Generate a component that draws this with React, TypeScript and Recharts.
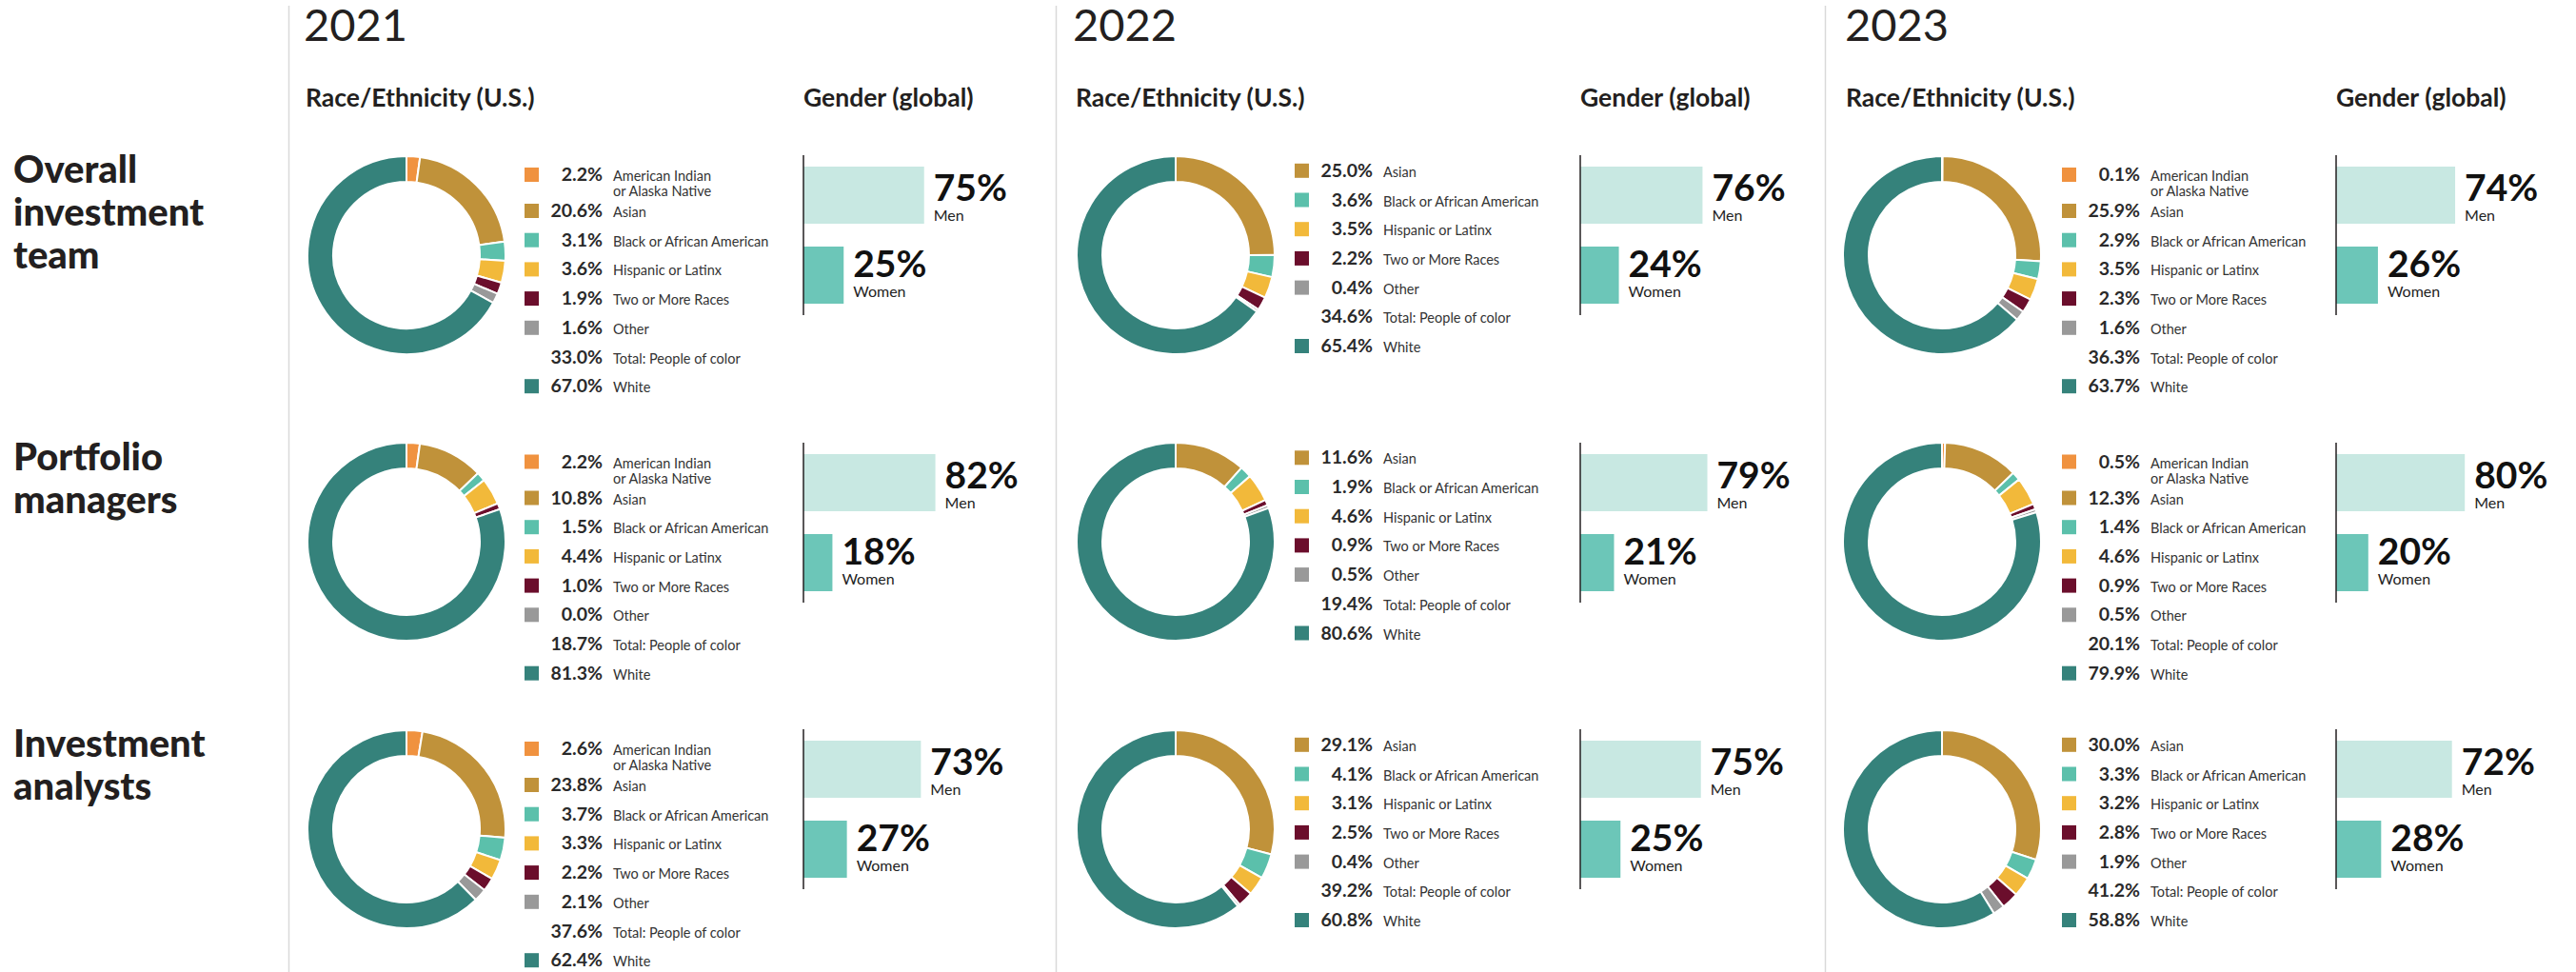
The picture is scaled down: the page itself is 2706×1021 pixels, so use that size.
import React from "react";
import {
  PieChart,
  Pie,
  Cell,
  BarChart,
  Bar,
  XAxis,
  YAxis,
  ReferenceLine,
  LabelList,
} from "recharts";

const YEARS = ["2021", "2022", "2023"];
const ROW_TITLES = [
  ["Overall", "investment", "team"],
  ["Portfolio", "managers"],
  ["Investment", "analysts"],
];

const RACE_LABELS = [
  ["American Indian", "or Alaska Native"],
  ["Asian"],
  ["Black or African American"],
  ["Hispanic or Latinx"],
  ["Two or More Races"],
  ["Other"],
  ["White"],
];
const RACE_COLORS = [
  "#f0923f",
  "#c0923a",
  "#5bc0ab",
  "#f2b93a",
  "#6b0e2c",
  "#999999",
  "#35827b",
];

// one row per year (2021, 2022, 2023); null = not reported that year
const OVERALL = [
  [2.2, 20.6, 3.1, 3.6, 1.9, 1.6, 67.0],
  [null, 25.0, 3.6, 3.5, 2.2, 0.4, 65.4],
  [0.1, 25.9, 2.9, 3.5, 2.3, 1.6, 63.7],
];
const PORTFOLIO = [
  [2.2, 10.8, 1.5, 4.4, 1.0, 0.0, 81.3],
  [null, 11.6, 1.9, 4.6, 0.9, 0.5, 80.6],
  [0.5, 12.3, 1.4, 4.6, 0.9, 0.5, 79.9],
];
const ANALYSTS = [
  [2.6, 23.8, 3.7, 3.3, 2.2, 2.1, 62.4],
  [null, 29.1, 4.1, 3.1, 2.5, 0.4, 60.8],
  [null, 30.0, 3.3, 3.2, 2.8, 1.9, 58.8],
];
const PEOPLE_OF_COLOR = [
  [33.0, 34.6, 36.3],
  [18.7, 19.4, 20.1],
  [37.6, 39.2, 41.2],
];

const GENDER_NAMES = ["Men", "Women"];
const GENDER_COLORS = ["#c8e8e2", "#6cc6b8"];
const MEN = [
  [75, 76, 74],
  [82, 79, 80],
  [73, 75, 72],
];
const WOMEN = [
  [25, 24, 26],
  [18, 21, 20],
  [27, 25, 28],
];

const RACE_ROWS = [OVERALL, PORTFOLIO, ANALYSTS];

// layout
const W = 2706;
const H = 1021;
const FONT = "Lato, 'Open Sans', sans-serif";
const SEP_X = [303.5, 1109.5, 1917.5];
const YEAR_X = [319, 1127, 1938];
const RACE_HEAD_X = [321, 1130, 1939];
const DONUT_CX = [427, 1235, 2040];
const LEGEND_X = [551, 1360, 2166];
const GENDER_X = [844, 1660, 2454];
const ROW_CY = [267.5, 569, 870.5];

function Donut({ values, cx, cy }: { values: (number | null)[]; cx: number; cy: number }) {
  const data = values
    .map((v, i) => ({ name: RACE_LABELS[i].join(" "), value: v, color: RACE_COLORS[i] }))
    .filter((d) => d.value !== null);
  return (
    <div style={{ position: "absolute", left: cx - 106, top: cy - 106 }}>
      <PieChart width={212} height={212} margin={{ top: 0, right: 0, bottom: 0, left: 0 }}>
        <Pie
          data={data}
          dataKey="value"
          cx={106}
          cy={106}
          innerRadius={77}
          outerRadius={104}
          startAngle={90}
          endAngle={-270}
          stroke="#ffffff"
          strokeWidth={2}
          isAnimationActive={false}
        >
          {data.map((d, i) => (
            <Cell key={`slice-${i}`} fill={d.color} />
          ))}
        </Pie>
      </PieChart>
    </div>
  );
}

const renderGenderLabel = (props: any) => {
  const { x, y, width, value, index } = props;
  const tx = Number(x) + Number(width) + 10;
  const pctY = Number(y) + (index === 0 ? 36 : 32);
  return (
    <g>
      <text x={tx} y={pctY} fontFamily={FONT} fontWeight={700} fontSize={39} fill="#111">
        {value}%
      </text>
      <text x={tx} y={pctY + 20.5} fontFamily={FONT} fontSize={16} fill="#222">
        {GENDER_NAMES[index]}
      </text>
    </g>
  );
};

function Gender({ men, women, x, cy }: { men: number; women: number; x: number; cy: number }) {
  const data = [
    { name: GENDER_NAMES[0], value: men },
    { name: GENDER_NAMES[1], value: women },
  ];
  return (
    <div style={{ position: "absolute", left: x - 2, top: cy - 104.5 }}>
      <BarChart
        width={300}
        height={168}
        data={data}
        layout="vertical"
        margin={{ top: 0, right: 129, bottom: 0, left: 2 }}
      >
        <XAxis type="number" domain={[0, 100]} hide />
        <YAxis type="category" dataKey="name" hide />
        <Bar dataKey="value" barSize={60} isAnimationActive={false}>
          {data.map((d, i) => (
            <Cell key={`g-${i}`} fill={GENDER_COLORS[i]} />
          ))}
          <LabelList dataKey="value" content={renderGenderLabel} />
        </Bar>
        <ReferenceLine x={0} stroke="#231f20" strokeWidth={1.5} ifOverflow="visible" />
      </BarChart>
    </div>
  );
}

function Legend({ values, total, x, cy }: { values: (number | null)[]; total: number; x: number; cy: number }) {
  const items: { color: string | null; value: number; lines: string[] }[] = [];
  values.forEach((v, i) => {
    if (i < 6 && v !== null) items.push({ color: RACE_COLORS[i], value: v, lines: RACE_LABELS[i] });
  });
  items.push({ color: null, value: total, lines: ["Total: People of color"] });
  items.push({ color: RACE_COLORS[6], value: values[6] as number, lines: RACE_LABELS[6] });

  let base = items[0].lines.length > 1 ? cy - 77.5 : cy - 81.7;
  const out: React.ReactNode[] = [];
  items.forEach((it, k) => {
    out.push(
      <g key={`li-${k}`}>
        {it.color && <rect x={x} y={base - 14} width={15} height={15} fill={it.color} />}
        <text x={x + 82} y={base} textAnchor="end" fontFamily={FONT} fontWeight={700} fontSize={19.5} fill="#2a2a2a">
          {it.value.toFixed(1)}%
        </text>
        {it.lines.map((ln, j) => (
          <text key={j} x={x + 93} y={base + j * 16} fontFamily={FONT} fontSize={14.5} fill="#333">
            {ln}
          </text>
        ))}
      </g>
    );
    base += it.lines.length > 1 ? 38 : 30.7;
  });
  return <g>{out}</g>;
}

export default function App() {
  return (
    <div
      style={{
        position: "absolute",
        left: 0,
        top: 0,
        width: W,
        height: H,
        overflow: "hidden",
        background: "#fff",
      }}
    >
      <svg width={W} height={H} style={{ position: "absolute", left: 0, top: 0 }}>
        {SEP_X.map((sx, i) => (
          <line key={`sep-${i}`} x1={sx} x2={sx} y1={6} y2={H} stroke="#d9d9d9" strokeWidth={1.5} />
        ))}
        {YEARS.map((yr, i) => (
          <g key={`hd-${i}`}>
            <text x={YEAR_X[i]} y={43} fontFamily={FONT} fontWeight={400} fontSize={47} fill="#231f20">
              {yr}
            </text>
            <text x={RACE_HEAD_X[i]} y={112} fontFamily={FONT} fontWeight={700} fontSize={26.5} fill="#231f20">
              Race/Ethnicity (U.S.)
            </text>
            <text x={GENDER_X[i]} y={112} fontFamily={FONT} fontWeight={700} fontSize={26.5} fill="#231f20">
              Gender (global)
            </text>
          </g>
        ))}
        {ROW_TITLES.map((lines, r) =>
          lines.map((ln, j) => (
            <text
              key={`rt-${r}-${j}`}
              x={14}
              y={ROW_CY[r] - 75.5 + j * 45}
              fontFamily={FONT}
              fontWeight={900}
              fontSize={40}
              fill="#231f20"
            >
              {ln}
            </text>
          ))
        )}
        {RACE_ROWS.map((row, r) =>
          row.map((vals, y) => (
            <Legend
              key={`lg-${r}-${y}`}
              values={vals}
              total={PEOPLE_OF_COLOR[r][y]}
              x={LEGEND_X[y]}
              cy={ROW_CY[r]}
            />
          ))
        )}
      </svg>
      {RACE_ROWS.map((row, r) =>
        row.map((vals, y) => (
          <Donut key={`d-${r}-${y}`} values={vals} cx={DONUT_CX[y]} cy={ROW_CY[r]} />
        ))
      )}
      {MEN.map((row, r) =>
        row.map((m, y) => (
          <Gender key={`g-${r}-${y}`} men={m} women={WOMEN[r][y]} x={GENDER_X[y]} cy={ROW_CY[r]} />
        ))
      )}
    </div>
  );
}
